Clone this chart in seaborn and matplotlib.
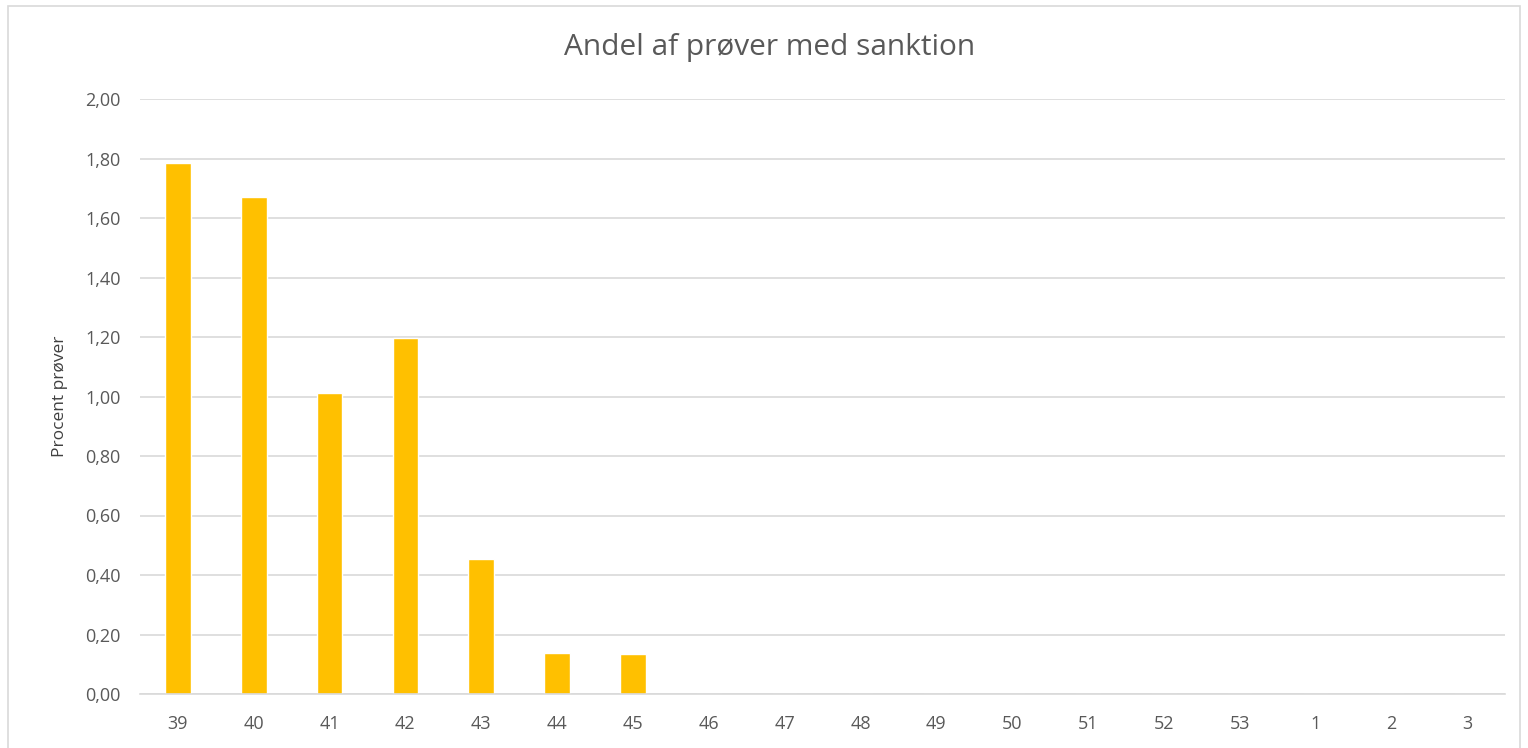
import pandas as pd
import seaborn as sns
import matplotlib.pyplot as plt
from matplotlib.patches import Rectangle
from matplotlib.ticker import FuncFormatter

weeks = ["39", "40", "41", "42", "43", "44", "45", "46", "47", "48",
         "49", "50", "51", "52", "53", "1", "2", "3"]
andel = [1.785, 1.67, 1.012, 1.197, 0.454, 0.138, 0.134, 0, 0, 0,
         0, 0, 0, 0, 0, 0, 0, 0]

df = pd.DataFrame({"uge": weeks, "andel": andel})

sns.set_theme(style="white")
plt.rcParams["font.family"] = ["Open Sans", "DejaVu Sans"]

fig = plt.figure(figsize=(15.28, 7.48), dpi=100)
ax = fig.add_axes([140 / 1528, 1 - 694 / 748, 1365 / 1528, 595 / 748])

sns.barplot(data=df, x="uge", y="andel", order=weeks, color="#FFC000",
            saturation=1, width=0.34, ax=ax)

ax.set_ylim(0, 2.0)
ax.set_yticks([i * 0.2 for i in range(11)])
ax.yaxis.set_major_formatter(FuncFormatter(lambda v, p: f"{v:.2f}".replace(".", ",")))
ax.grid(axis="y", color="#D9D9D9", linewidth=1.2)
ax.set_axisbelow(True)
for s in ["top", "right", "left"]:
    ax.spines[s].set_visible(False)
ax.spines["bottom"].set_color("#D9D9D9")
ax.spines["bottom"].set_linewidth(1.2)
ax.tick_params(axis="both", length=0, labelcolor="#595959", labelsize=13)
ax.tick_params(axis="y", pad=14)
ax.tick_params(axis="x", pad=15)
ax.set_xlabel("")
ax.set_ylabel("Procent prøver", color="#404040", fontsize=12.5, labelpad=12.5)

fig.text(770 / 1528, 1 - 47 / 748, "Andel af prøver med sanktion", ha="center",
         va="center", fontsize=21.5, color="#595959")

fig.patches.append(Rectangle((8 / 1528, -0.01), 1512 / 1528, 1 - 6 / 748 + 0.01,
                             transform=fig.transFigure, fill=False,
                             edgecolor="#D9D9D9", linewidth=1.2))

fig.savefig("out.png", dpi=100)
